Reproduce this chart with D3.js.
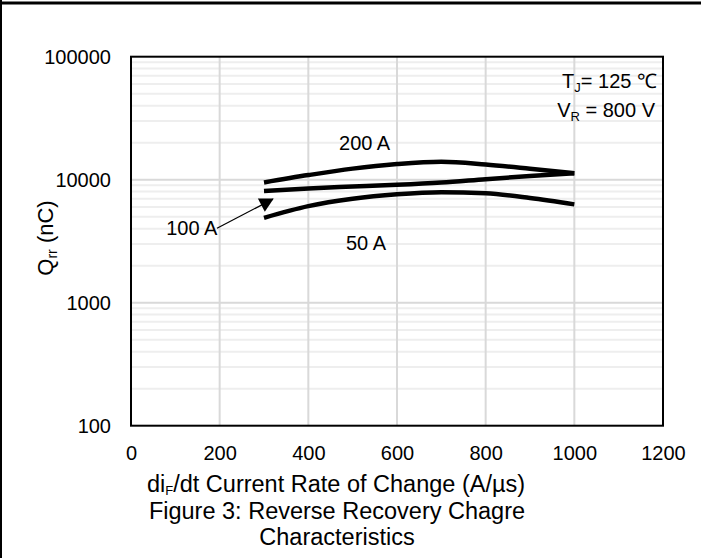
<!DOCTYPE html>
<html>
<head>
<meta charset="utf-8">
<script src="https://cdn.jsdelivr.net/npm/d3@7"></script>
<style>
  body { margin: 0; background: #fff; }
  svg { display: block; font-family: Arial, 'Liberation Sans', sans-serif; }
</style>
</head>
<body>
<div id="chart"></div>
<script>
// dI/dt (A/us) where the curves were read
const rate = [300, 400, 500, 600, 700, 800, 900, 1000]

// Qrr (nC) per forward current
const q200 = [9500, 10900, 12300, 13400, 14000, 13300, 12300, 11300]
const q100 = [8100, 8500, 8800, 9100, 9500, 10100, 10700, 11300]
const q50 = [4900, 6100, 7000, 7600, 7900, 7750, 7100, 6300]

const xTicks = [0, 200, 400, 600, 800, 1000, 1200]
const yTicks = [100, 1000, 10000, 100000]

const width = 701
const height = 558
const margin = { left: 131, right: 38, top: 57, bottom: 132 }

const svg = d3
  .select('#chart')
  .append('svg')
  .attr('width', width)
  .attr('height', height)

// page frame
svg.append('line')
  .attr('x1', 0).attr('x2', width)
  .attr('y1', 3).attr('y2', 3)
  .attr('stroke', '#000').attr('stroke-width', 3)
svg.append('line')
  .attr('x1', 1).attr('x2', 1)
  .attr('y1', 0).attr('y2', height)
  .attr('stroke', '#000').attr('stroke-width', 2)

const x = d3
  .scaleLinear()
  .domain([0, 1200])
  .range([margin.left, width - margin.right])

const y = d3
  .scaleLog()
  .domain([100, 100000])
  .range([height - margin.bottom - 0.3, margin.top - 0.3])

// minor grid (2..9 in each decade)
const minor = []
for (let d = 100; d < 100000; d *= 10) {
  for (let k = 2; k <= 9; k++) minor.push(d * k)
}

const grid = svg.append('g').attr('class', 'grid')
grid.selectAll('line.minor')
  .data(minor)
  .enter()
  .append('line')
  .attr('class', 'minor')
  .attr('x1', x(0)).attr('x2', x(1200))
  .attr('y1', d => y(d)).attr('y2', d => y(d))
  .attr('stroke', '#eeeeee').attr('stroke-width', 2)

grid.selectAll('line.majorY')
  .data(yTicks.slice(1, -1))
  .enter()
  .append('line')
  .attr('class', 'majorY')
  .attr('x1', x(0)).attr('x2', x(1200))
  .attr('y1', d => y(d)).attr('y2', d => y(d))
  .attr('stroke', '#d9d9d9').attr('stroke-width', 2)

grid.selectAll('line.majorX')
  .data(xTicks.slice(1, -1))
  .enter()
  .append('line')
  .attr('class', 'majorX')
  .attr('x1', d => x(d)).attr('x2', d => x(d))
  .attr('y1', y(100)).attr('y2', y(100000))
  .attr('stroke', '#d9d9d9').attr('stroke-width', 2)

// plot border
svg.append('rect')
  .attr('x', x(0)).attr('y', y(100000))
  .attr('width', x(1200) - x(0))
  .attr('height', y(100) - y(100000))
  .attr('fill', 'none')
  .attr('stroke', '#000')
  .attr('stroke-width', 2)

// axes
const xAxis = svg.append('g')
  .attr('transform', 'translate(0,' + y(100) + ')')
  .call(d3.axisBottom(x).tickValues(xTicks).tickSize(0).tickFormat(d3.format('d')))
xAxis.select('.domain').remove()
xAxis.selectAll('text')
  .attr('y', 34).attr('dy', 0)
  .attr('font-size', 20).attr('fill', '#000')
  .attr('font-family', "Arial, 'Liberation Sans', sans-serif")

const yAxis = svg.append('g')
  .attr('transform', 'translate(' + x(0) + ',0)')
  .call(d3.axisLeft(y).tickValues(yTicks).tickSize(0).tickFormat(d3.format('d')))
yAxis.select('.domain').remove()
yAxis.selectAll('text')
  .attr('x', -20).attr('dy', '0.35em')
  .attr('font-size', 20).attr('fill', '#000')
  .attr('font-family', "Arial, 'Liberation Sans', sans-serif")

// curves
const series = [
  { name: '200 A', values: q200 },
  { name: '100 A', values: q100 },
  { name: '50 A', values: q50 },
]

const line = d3
  .line()
  .x((d, i) => x(rate[i]))
  .y(d => y(d))
  .curve(d3.curveMonotoneX)

svg.append('g')
  .selectAll('path')
  .data(series)
  .enter()
  .append('path')
  .attr('d', d => line(d.values))
  .attr('fill', 'none')
  .attr('stroke', '#000')
  .attr('stroke-width', 4.5)

// curve labels, placed in data units
const labels = [
  { text: '200 A', rate: 527, q: 17300 },
  { text: '50 A', rate: 530, q: 2680 },
  { text: '100 A', rate: 137, q: 3550 },
]

svg.append('g')
  .selectAll('text')
  .data(labels)
  .enter()
  .append('text')
  .attr('x', d => x(d.rate))
  .attr('y', d => y(d.q))
  .attr('text-anchor', 'middle')
  .attr('font-size', 20)
  .text(d => d.text)

// arrow for 100 A
const arrowFrom = { rate: 194, q: 4030 }
const arrowTo = { rate: 320, q: 6960 }

svg.append('defs')
  .append('marker')
  .attr('id', 'head')
  .attr('markerUnits', 'userSpaceOnUse')
  .attr('markerWidth', 16)
  .attr('markerHeight', 16)
  .attr('viewBox', '0 -8 14 16')
  .attr('refX', 13)
  .attr('refY', 0)
  .attr('orient', 'auto')
  .append('path')
  .attr('d', 'M0,-7.5L14,0L0,7.5Z')
  .attr('fill', '#000')

svg.append('line')
  .attr('x1', x(arrowFrom.rate)).attr('y1', y(arrowFrom.q))
  .attr('x2', x(arrowTo.rate)).attr('y2', y(arrowTo.q))
  .attr('stroke', '#000')
  .attr('stroke-width', 1.3)
  .attr('marker-end', 'url(#head)')

// conditions
const cond = svg.append('g').attr('font-size', 20).attr('text-anchor', 'end')
const tj = cond.append('text').attr('x', 657).attr('y', 88)
tj.append('tspan').text('T')
tj.append('tspan').attr('font-size', 13).attr('dy', 4).text('J')
tj.append('tspan').attr('dy', -4).text('= 125 ℃')

const vr = cond.append('text').attr('x', 655).attr('y', 117)
vr.append('tspan').text('V')
vr.append('tspan').attr('font-size', 13).attr('dy', 4).text('R')
vr.append('tspan').attr('dy', -4).text(' = 800 V')

// axis titles
const yt = svg.append('text')
  .attr('transform', 'translate(53,238) rotate(-90)')
  .attr('text-anchor', 'middle')
  .attr('font-size', 22)
yt.append('tspan').text('Q')
yt.append('tspan').attr('font-size', 14).attr('dy', 4).text('rr')
yt.append('tspan').attr('dy', -4).text(' (nC)')

const xt = svg.append('text')
  .attr('x', 336)
  .attr('y', 492)
  .attr('text-anchor', 'middle')
  .attr('font-size', 23.5)
xt.append('tspan').text('di')
xt.append('tspan').attr('font-size', 13).attr('dy', 3).text('F')
xt.append('tspan').attr('dy', -3).text('/dt Current Rate of Change (A/µs)')

const caption = ['Figure 3: Reverse Recovery Chagre', 'Characteristics']
svg.append('g')
  .selectAll('text')
  .data(caption)
  .enter()
  .append('text')
  .attr('x', 337)
  .attr('y', (d, i) => 518.5 + i * 26.5)
  .attr('text-anchor', 'middle')
  .attr('font-size', 23.5)
  .text(d => d)
</script>
</body>
</html>
